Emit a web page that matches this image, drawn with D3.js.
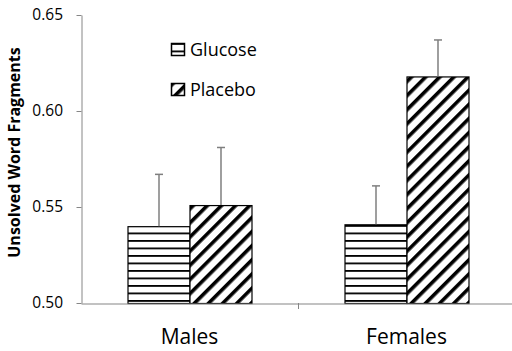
<!DOCTYPE html>
<html>
<head>
<meta charset="utf-8">
<script src="https://cdn.jsdelivr.net/npm/d3@7"></script>
<style>
  html, body { margin: 0; padding: 0; background: #fff; }
  svg { display: block; }
  text { font-family: "Open Sans", "Liberation Sans", sans-serif; fill: #000; }
</style>
</head>
<body>
<svg id="chart" width="512" height="351"></svg>
<script>
// Data
const categories = ["Males", "Females"];
const series = ["Glucose", "Placebo"];
const glucoseMeans = [0.540, 0.541];
const placeboMeans = [0.551, 0.618];
const glucoseErr = [0.027, 0.020];
const placeboErr = [0.030, 0.019];
const yTicks = [0.50, 0.55, 0.60, 0.65];

const svg = d3.select("#chart");
const W = 512, H = 351;
const margin = { left: 81, right: -3, top: 15, bottom: 48 };

// Patterns: horizontal stripes and wide upward diagonal
const defs = svg.append("defs");
const ph = defs.append("pattern")
  .attr("id", "pat-glucose")
  .attr("patternUnits", "userSpaceOnUse")
  .attr("width", 8).attr("height", 7.5);
ph.append("rect").attr("width", 8).attr("height", 7.5).attr("fill", "#fff");
ph.append("rect").attr("y", 0).attr("width", 8).attr("height", 1.8).attr("fill", "#000");

const pd = defs.append("pattern")
  .attr("id", "pat-placebo")
  .attr("patternUnits", "userSpaceOnUse")
  .attr("width", 10).attr("height", 10)
  .attr("patternTransform", "rotate(45)");
pd.append("rect").attr("width", 10).attr("height", 10).attr("fill", "#fff");
pd.append("rect").attr("x", 0).attr("width", 3.6).attr("height", 10).attr("fill", "#000");

const x0 = d3.scaleBand()
  .domain(categories)
  .range([margin.left, W - margin.right])
  .paddingInner(0.4286)
  .paddingOuter(0.2143);

const x1 = d3.scaleBand()
  .domain(series)
  .range([0, x0.bandwidth()]);

const y = d3.scaleLinear()
  .domain([0.50, 0.65])
  .range([H - margin.bottom, margin.top]);

const rows = categories.map((c, i) => ({
  cat: c,
  vals: [
    { s: "Glucose", v: glucoseMeans[i], e: glucoseErr[i], fill: "url(#pat-glucose)" },
    { s: "Placebo", v: placeboMeans[i], e: placeboErr[i], fill: "url(#pat-placebo)" }
  ]
}));

// Bars
const groups = svg.append("g").selectAll("g")
  .data(rows).join("g")
  .attr("transform", d => `translate(${x0(d.cat)},0)`);

groups.selectAll("rect")
  .data(d => d.vals).join("rect")
  .attr("x", d => x1(d.s) + 0.5)
  .attr("y", d => y(d.v) + 0.5)
  .attr("width", x1.bandwidth())
  .attr("height", d => y(0.50) - y(d.v))
  .attr("fill", d => d.fill)
  .attr("stroke", "#000")
  .attr("stroke-width", 1.2);

// Error bars (upper only)
const eb = groups.selectAll("g.err")
  .data(d => d.vals).join("g").attr("class", "err")
  .attr("stroke", "#7f7f7f")
  .attr("stroke-width", 1.5);
eb.append("line")
  .attr("x1", d => x1(d.s) + x1.bandwidth() / 2 + 0.5)
  .attr("x2", d => x1(d.s) + x1.bandwidth() / 2 + 0.5)
  .attr("y1", d => y(d.v))
  .attr("y2", d => y(d.v + d.e));
eb.append("line")
  .attr("x1", d => x1(d.s) + x1.bandwidth() / 2 - 3.5)
  .attr("x2", d => x1(d.s) + x1.bandwidth() / 2 + 4.5)
  .attr("y1", d => y(d.v + d.e))
  .attr("y2", d => y(d.v + d.e));

// Y axis
const yAxis = svg.append("g")
  .attr("transform", `translate(${margin.left + 0.5},0)`)
  .call(d3.axisLeft(y).tickValues(yTicks).tickFormat(d3.format(".2f")).tickSize(5).tickSizeOuter(0));
yAxis.select(".domain").attr("stroke", "#868686");
yAxis.selectAll(".tick line").attr("stroke", "#868686");
yAxis.selectAll(".tick text").attr("font-size", 15.5).attr("x", -18.5)
  .style("font-family", "'Open Sans', sans-serif");

// X axis
const xAxis = svg.append("g")
  .attr("transform", `translate(0,${y(0.50) + 0.5})`)
  .call(d3.axisBottom(x0).tickSize(0).tickSizeOuter(0));
xAxis.select(".domain").attr("stroke", "#868686").attr("stroke-width", 1.2);
xAxis.selectAll(".tick text").attr("font-size", 21).attr("dy", 0).attr("y", 40)
  .style("font-family", "'Open Sans', sans-serif");
// Separator tick between categories
const sep = (x0("Males") + x0.bandwidth() + x0("Females")) / 2;
svg.append("line")
  .attr("x1", sep + 0.5).attr("x2", sep + 0.5)
  .attr("y1", y(0.50)).attr("y2", y(0.50) + 6)
  .attr("stroke", "#868686");

// Y axis title
svg.append("text")
  .attr("transform", `translate(20,152.5) rotate(-90)`)
  .attr("text-anchor", "middle")
  .attr("font-size", 16)
  .attr("font-weight", "bold")
  .text("Unsolved Word Fragments");

// Legend
const legend = svg.append("g");
const legendItems = [
  { s: "Glucose", fill: "url(#pat-glucose)", y: 43 },
  { s: "Placebo", fill: "url(#pat-placebo)", y: 83 }
];
const li = legend.selectAll("g").data(legendItems).join("g")
  .attr("transform", d => `translate(171,${d.y})`);
li.append("rect")
  .attr("x", 0.5).attr("y", 0.5)
  .attr("width", 13).attr("height", 12)
  .attr("fill", d => d.fill)
  .attr("stroke", "#000").attr("stroke-width", 1.5);
li.append("text")
  .attr("x", 19).attr("y", 12.5)
  .attr("font-size", 18)
  .text(d => d.s);
</script>
</body>
</html>
